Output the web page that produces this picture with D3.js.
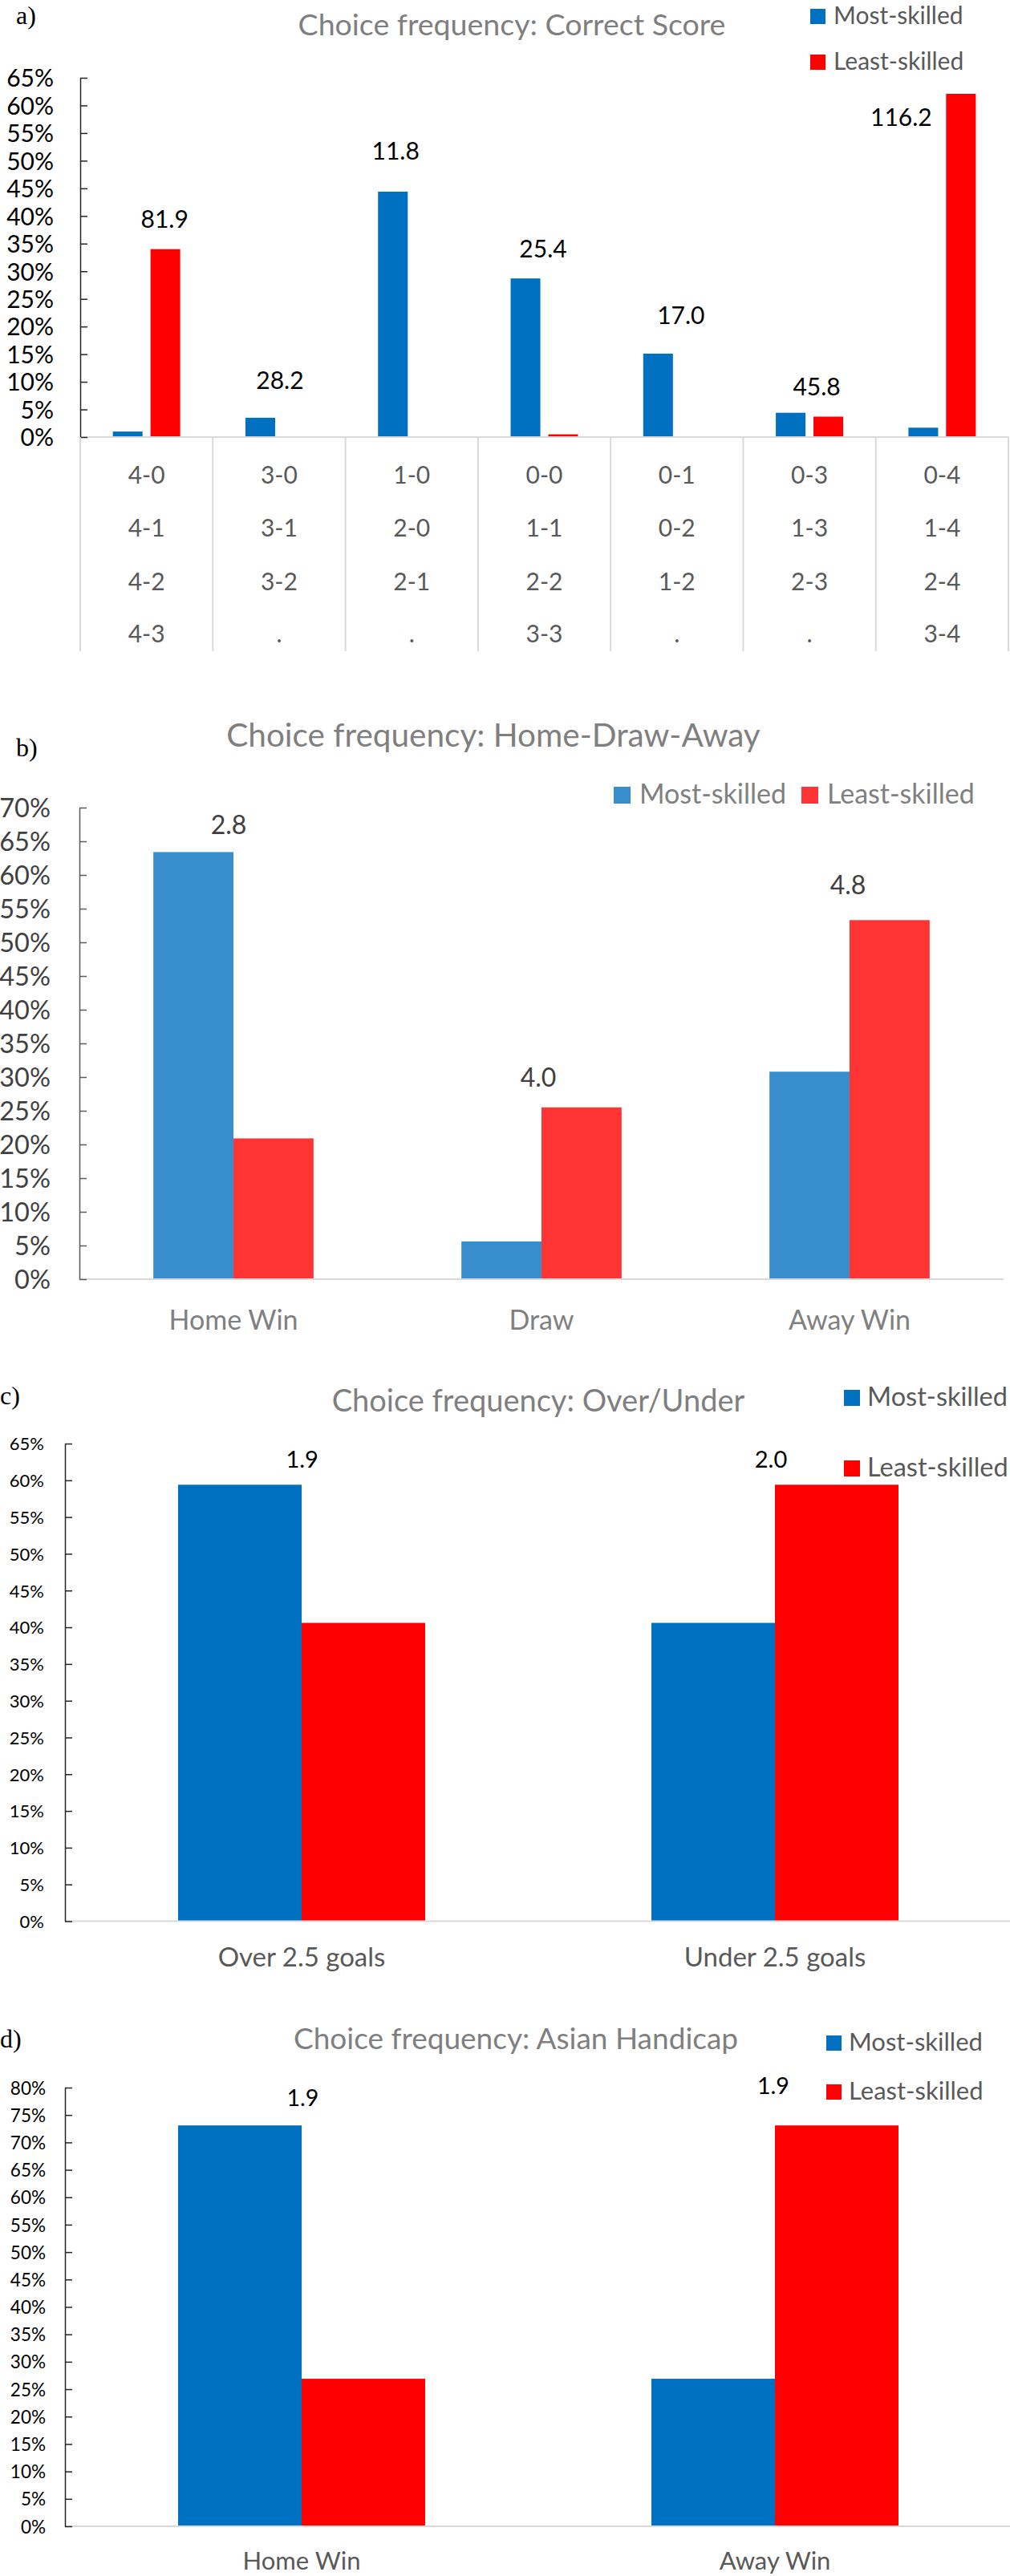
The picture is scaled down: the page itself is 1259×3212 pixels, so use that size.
<!DOCTYPE html>
<html>
<head>
<meta charset="utf-8">
<script src="https://cdn.jsdelivr.net/npm/d3@7"></script>
<style>
  html, body { margin: 0; padding: 0; background: #fff; }
  svg { display: block; }
</style>
</head>
<body>
<svg id="fig" width="1259" height="3212"></svg>
<script>
// ---------------- DATA ----------------
const seriesNames = ["Most-skilled", "Least-skilled"];

// a) Correct score
const catsA = ["4-0", "3-0", "1-0", "0-0", "0-1", "0-3", "0-4"];
const scoreRowsA = [
  ["4-0", "4-1", "4-2", "4-3"],
  ["3-0", "3-1", "3-2", "."],
  ["1-0", "2-0", "2-1", "."],
  ["0-0", "1-1", "2-2", "3-3"],
  ["0-1", "0-2", "1-2", "."],
  ["0-3", "1-3", "2-3", "."],
  ["0-4", "1-4", "2-4", "3-4"]
];
const mostA = [1.0, 3.5, 44.4, 28.7, 15.1, 4.4, 1.7];
const leastA = [34.0, 0, 0, 0.5, 0, 3.7, 62.1];
const ratioA = ["81.9", "28.2", "11.8", "25.4", "17.0", "45.8", "116.2"];
const ticksA = [0, 5, 10, 15, 20, 25, 30, 35, 40, 45, 50, 55, 60, 65];

// b) Home-Draw-Away
const catsB = ["Home Win", "Draw", "Away Win"];
const mostB = [63.4, 5.6, 30.8];
const leastB = [20.9, 25.5, 53.3];
const ratioB = ["2.8", "4.0", "4.8"];
const ticksB = [0, 5, 10, 15, 20, 25, 30, 35, 40, 45, 50, 55, 60, 65, 70];

// c) Over/Under
const catsC = ["Over 2.5 goals", "Under 2.5 goals"];
const mostC = [59.4, 40.6];
const leastC = [40.6, 59.4];
const ratioC = ["1.9", "2.0"];
const ticksC = [0, 5, 10, 15, 20, 25, 30, 35, 40, 45, 50, 55, 60, 65];

// d) Asian Handicap
const catsD = ["Home Win", "Away Win"];
const mostD = [73.1, 26.9];
const leastD = [26.9, 73.1];
const ratioD = ["1.9", "1.9"];
const ticksD = [0, 5, 10, 15, 20, 25, 30, 35, 40, 45, 50, 55, 60, 65, 70, 75, 80];

// ---------------- LAYOUT ----------------
const SANS = "Lato, 'Open Sans', sans-serif";
const SERIF = "'Liberation Serif', 'DejaVu Serif', serif";

const panels = [
  {
    letter: "a)", letterX: 20, letterY: 30,
    title: "Choice frequency: Correct Score", titleX: 638, titleY: 44, titleSize: 37.5,
    cats: catsA, rows: scoreRowsA, most: mostA, least: leastA, ratio: ratioA, ticks: ticksA,
    yMax: 65, left: 100, right: 1257, top: 97, bottom: 545,
    barFrac: 0.224, gapFrac: 0.06,
    colors: ["#0070C0", "#FF0000"],
    tickSize: 30, tickPad: 33, tickColor: "#000", axisColor: "#262626",
    labelSize: 30, labelColor: "#000",
    // [dx px from band centre, y in data units]
    labelPos: [[22.5, 39.5], [1, 10.2], [-20, 51.7], [-1.5, 34.1], [5, 22.0], [9, 9.1], [-51, 57.8]],
    catSize: 30, catColor: "#595959", rowY: [592, 658, 725, 790], sepBottom: 812,
    legend: "vertical", legendX: 1010, legendY: [11, 68], legendSq: 19, legendSize: 30, legendColor: "#595959", legendGap: 10
  },
  {
    letter: "b)", letterX: 20, letterY: 943,
    title: "Choice frequency: Home-Draw-Away", titleX: 615, titleY: 931, titleSize: 40.5,
    cats: catsB, most: mostB, least: leastB, ratio: ratioB, ticks: ticksB,
    yMax: 70, left: 99, right: 1251, top: 1007, bottom: 1595,
    barFrac: 0.26, gapFrac: 0,
    colors: ["#388ECD", "#FF3535"],
    tickSize: 32.5, tickPad: 36, tickColor: "#404040", axisColor: "#595959",
    labelSize: 32, labelColor: "#404040",
    labelPos: [[-6, 67.5], [-4, 30.0], [-2, 58.5]],
    catSize: 34, catColor: "#808080", catY: 1646,
    legend: "horizontal", legendX: [765, 999], legendY: 981, legendSq: 21, legendSize: 34, legendColor: "#808080", legendGap: 11
  },
  {
    letter: "c)", letterX: 0, letterY: 1751,
    title: "Choice frequency: Over/Under", titleX: 671, titleY: 1760, titleSize: 38,
    cats: catsC, most: mostC, least: leastC, ratio: ratioC, ticks: ticksC,
    yMax: 65, left: 81, right: 1261, top: 1800, bottom: 2395.5,
    barFrac: 0.261, gapFrac: 0,
    colors: ["#0070C0", "#FF0000"],
    tickSize: 22, tickPad: 26, tickColor: "#000", axisColor: "#262626",
    labelSize: 29, labelColor: "#000",
    labelPos: [[0.7, 62.9], [-5, 62.9]],
    catSize: 33, catColor: "#595959", catY: 2440,
    legend: "vertical", legendX: 1052, legendY: [1733, 1821], legendSq: 20, legendSize: 32.5, legendColor: "#595959", legendGap: 9
  },
  {
    letter: "d)", letterX: 0, letterY: 2553,
    title: "Choice frequency: Asian Handicap", titleX: 643, titleY: 2555, titleSize: 37,
    cats: catsD, most: mostD, least: leastD, ratio: ratioD, ticks: ticksD,
    yMax: 80, left: 81, right: 1261, top: 2603, bottom: 3150,
    barFrac: 0.261, gapFrac: 0,
    colors: ["#0070C0", "#FF0000"],
    tickSize: 22.5, tickPad: 24, tickColor: "#000", axisColor: "#262626",
    labelSize: 28.5, labelColor: "#000",
    labelPos: [[1.5, 78.2], [-2, 80.3]],
    catSize: 31, catColor: "#595959", catY: 3193,
    legend: "vertical", legendX: 1030, legendY: [2538, 2599], legendSq: 19, legendSize: 31, legendColor: "#595959", legendGap: 9
  }
];

// ---------------- DRAW ----------------
const svg = d3.select("#fig");

function drawPanel(p) {
  const g = svg.append("g");
  const x = d3.scaleBand().domain(p.cats).range([p.left, p.right]).padding(0);
  const y = d3.scaleLinear().domain([0, p.yMax]).range([p.bottom, p.top]);
  const bw = x.bandwidth();
  const barW = bw * p.barFrac;
  const gap = bw * p.gapFrac;
  const offsets = [-gap / 2 - barW, gap / 2];
  const seriesVals = [p.most, p.least];

  // panel letter
  g.append("text").attr("x", p.letterX).attr("y", p.letterY)
    .attr("font-family", SERIF).attr("font-size", 32).attr("fill", "#000")
    .text(p.letter);

  // title
  g.append("text").attr("x", p.titleX).attr("y", p.titleY)
    .attr("text-anchor", "middle").attr("font-family", SANS)
    .attr("font-size", p.titleSize).attr("fill", "#7F7F7F")
    .text(p.title);

  // bars
  seriesVals.forEach((vals, si) => {
    g.append("g").selectAll("rect")
      .data(p.cats.map((c, i) => ({ c, v: vals[i] })))
      .join("rect")
      .attr("x", d => x(d.c) + bw / 2 + offsets[si])
      .attr("width", barW)
      .attr("y", d => y(d.v))
      .attr("height", d => y(0) - y(d.v))
      .attr("fill", p.colors[si]);
  });

  // x axis baseline
  g.append("line")
    .attr("x1", p.left).attr("x2", p.right)
    .attr("y1", y(0)).attr("y2", y(0))
    .attr("stroke", "#D9D9D9").attr("stroke-width", 2);

  // y axis
  const yAxis = d3.axisLeft(y).tickValues(p.ticks).tickFormat(d => d + "%")
    .tickSizeInner(-9).tickSizeOuter(0).tickPadding(p.tickPad);
  const ya = g.append("g").attr("transform", `translate(${p.left},0)`).call(yAxis);
  ya.select(".domain").attr("stroke", p.axisColor).attr("stroke-width", 1.5);
  ya.selectAll(".tick line").attr("stroke", p.axisColor).attr("stroke-width", 1.5);
  ya.selectAll(".tick text").attr("font-family", SANS).attr("font-size", p.tickSize)
    .attr("fill", p.tickColor).attr("dy", "0.36em");

  // value labels (ratio numbers)
  g.append("g").selectAll("text")
    .data(p.cats.map((c, i) => ({ c, t: p.ratio[i], pos: p.labelPos[i] })))
    .join("text")
    .attr("x", d => x(d.c) + bw / 2 + d.pos[0])
    .attr("y", d => y(d.pos[1]))
    .attr("dy", "0.36em")
    .attr("text-anchor", "middle").attr("font-family", SANS)
    .attr("font-size", p.labelSize).attr("fill", p.labelColor)
    .text(d => d.t);

  // category labels
  if (p.rows) {
    const edges = p.cats.map(c => x(c)).concat([p.right]);
    g.append("g").selectAll("line").data(edges).join("line")
      .attr("x1", d => d).attr("x2", d => d)
      .attr("y1", y(0)).attr("y2", p.sepBottom)
      .attr("stroke", "#D9D9D9").attr("stroke-width", 2);
    p.cats.forEach((c, i) => {
      g.append("g").selectAll("text").data(p.rows[i]).join("text")
        .attr("x", x(c) + bw / 2)
        .attr("y", (d, r) => p.rowY[r])
        .attr("dy", "0.36em")
        .attr("text-anchor", "middle").attr("font-family", SANS)
        .attr("font-size", p.catSize).attr("fill", p.catColor)
        .text(d => d);
    });
  } else {
    g.append("g").selectAll("text").data(p.cats).join("text")
      .attr("x", d => x(d) + bw / 2)
      .attr("y", p.catY)
      .attr("dy", "0.36em")
      .attr("text-anchor", "middle").attr("font-family", SANS)
      .attr("font-size", p.catSize).attr("fill", p.catColor)
      .text(d => d);
  }

  // legend
  const lg = g.append("g");
  seriesNames.forEach((name, si) => {
    const lx = p.legend === "vertical" ? p.legendX : p.legendX[si];
    const ly = p.legend === "vertical" ? p.legendY[si] : p.legendY;
    lg.append("rect").attr("x", lx).attr("y", ly)
      .attr("width", p.legendSq).attr("height", p.legendSq)
      .attr("fill", p.colors[si]);
    lg.append("text").attr("x", lx + p.legendSq + p.legendGap)
      .attr("y", ly + p.legendSq)
      .attr("font-family", SANS).attr("font-size", p.legendSize)
      .attr("fill", p.legendColor)
      .text(name);
  });
}

panels.forEach(drawPanel);
</script>
</body>
</html>
